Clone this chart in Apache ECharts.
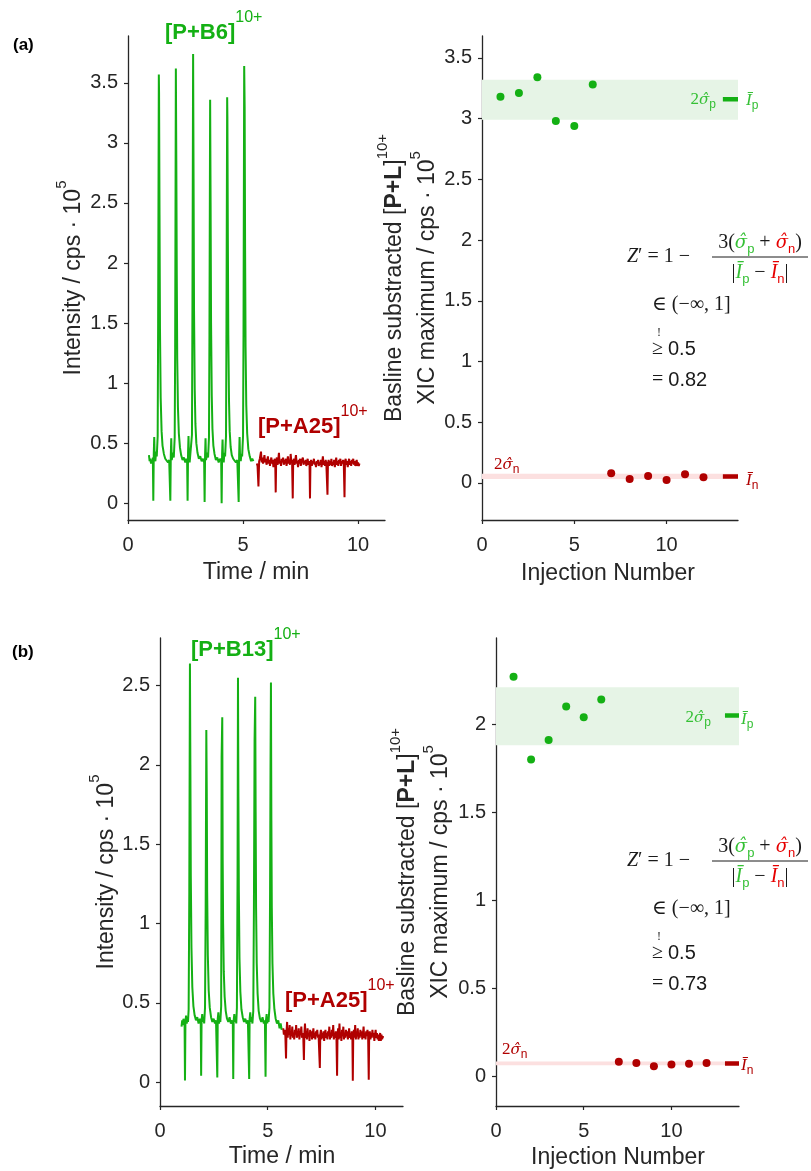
<!DOCTYPE html>
<html>
<head>
<meta charset="utf-8">
<script src="https://cdn.jsdelivr.net/npm/echarts@6/dist/echarts.min.js"></script>
<style>
  html, body { margin: 0; padding: 0; background: #ffffff; }
  #chart { width: 811px; height: 1171px; }
</style>
</head>
<body>
<div id="chart"></div>
<script>
// ---- tick labels ----
const timeTicks = [0, 5, 10];
const injectionTicks = [0, 5, 10];
const intensityTicksA = [0, 0.5, 1, 1.5, 2, 2.5, 3, 3.5];
const xicTicksA = [0, 0.5, 1, 1.5, 2, 2.5, 3, 3.5];
const intensityTicksB = [0, 0.5, 1, 1.5, 2, 2.5];
const xicTicksB = [0, 0.5, 1, 1.5, 2];

// ---- (a) chromatograms: [time / min, intensity / cps·10^5] ----
const traceA_B6 = [
  [0.91,0.40],[0.94,0.35],[0.97,0.37],[1.00,0.33],[1.03,0.36],[1.06,0.34],[1.08,0.38],
  [1.10,0.02],[1.12,0.41],[1.14,0.55],[1.16,0.37],[1.19,0.35],[1.22,0.43],[1.25,0.39],[1.29,0.56],[1.31,1.50],[1.34,3.57],[1.35,3.42],[1.37,2.40],[1.39,1.45],[1.42,0.88],[1.46,0.60],[1.50,0.48],[1.56,0.41],[1.62,0.37],[1.68,0.38],[1.74,0.34],[1.79,0.36],[1.82,0.35],
  [1.84,0.02],[1.86,0.40],[1.88,0.54],[1.90,0.36],[1.93,0.35],[1.96,0.42],[1.99,0.38],[2.03,0.55],[2.05,1.30],[2.08,3.62],[2.10,2.85],[2.12,1.90],[2.14,1.20],[2.17,0.80],[2.21,0.58],[2.26,0.46],[2.31,0.40],[2.37,0.36],[2.43,0.38],[2.49,0.34],[2.54,0.37],[2.57,0.35],
  [2.59,0.02],[2.61,0.42],[2.63,0.56],[2.65,0.37],[2.68,0.34],[2.71,0.41],[2.74,0.40],[2.78,0.57],[2.80,1.60],[2.83,3.74],[2.85,2.70],[2.87,1.60],[2.90,0.95],[2.93,0.66],[2.97,0.50],[3.02,0.42],[3.08,0.37],[3.14,0.39],[3.20,0.35],[3.26,0.37],[3.31,0.34],
  [3.33,0.01],[3.35,0.40],[3.37,0.54],[3.39,0.36],[3.42,0.35],[3.45,0.42],[3.48,0.38],[3.52,0.55],[3.54,1.40],[3.57,3.36],[3.59,2.50],[3.61,1.50],[3.64,0.90],[3.67,0.62],[3.71,0.48],[3.76,0.41],[3.82,0.36],[3.88,0.38],[3.94,0.34],[4.00,0.37],[4.05,0.35],
  [4.07,0.00],[4.09,0.41],[4.11,0.53],[4.13,0.37],[4.16,0.34],[4.19,0.42],[4.22,0.39],[4.26,0.56],[4.28,1.50],[4.31,3.38],[4.32,3.22],[4.34,2.20],[4.36,1.40],[4.39,0.85],[4.42,0.60],[4.46,0.47],[4.51,0.40],[4.57,0.37],[4.63,0.38],[4.69,0.34],[4.75,0.36],[4.79,0.35],
  [4.81,0.01],[4.83,0.40],[4.85,0.55],[4.87,0.38],[4.90,0.35],[4.93,0.41],[4.96,0.39],[5.00,0.56],[5.02,1.40],[5.05,3.64],[5.07,3.30],[5.09,2.10],[5.11,1.30],[5.14,0.82],[5.18,0.58],[5.23,0.45],[5.29,0.39],[5.35,0.35],[5.40,0.37],[5.45,0.35]
];
const traceA_A25 = [
  [5.60,0.33],[5.63,0.31],[5.67,0.14],[5.70,0.35],[5.73,0.37],[5.76,0.36],[5.78,0.43],[5.81,0.34],[5.84,0.38],[5.87,0.33],[5.90,0.36],[5.93,0.40],[5.96,0.34],[5.99,0.37],[6.02,0.32],[6.05,0.35],[6.08,0.39],[6.11,0.33],[6.14,0.36],[6.17,0.31],[6.20,0.35],[6.23,0.38],[6.26,0.33],[6.29,0.36],[6.32,0.30],[6.35,0.34],[6.38,0.37],[6.40,0.33],
  [6.42,0.09],[6.44,0.35],[6.47,0.38],[6.50,0.32],[6.53,0.36],[6.56,0.42],[6.59,0.33],[6.62,0.35],[6.65,0.31],[6.68,0.37],[6.71,0.34],[6.74,0.38],[6.77,0.32],[6.80,0.36],[6.83,0.33],[6.86,0.37],[6.89,0.31],[6.92,0.35],[6.95,0.39],[6.98,0.33],[7.01,0.36],[7.04,0.32],[7.07,0.41],[7.10,0.34],[7.13,0.36],
  [7.16,0.04],[7.18,0.35],[7.21,0.37],[7.24,0.32],[7.27,0.36],[7.30,0.40],[7.33,0.33],[7.36,0.35],[7.39,0.30],[7.42,0.36],[7.45,0.33],[7.48,0.37],[7.51,0.31],[7.54,0.35],[7.57,0.34],[7.60,0.38],[7.63,0.32],[7.66,0.35],[7.69,0.33],[7.72,0.36],[7.75,0.31],[7.78,0.34],[7.81,0.37],[7.84,0.32],[7.87,0.35],[7.89,0.33],
  [7.91,0.04],[7.93,0.34],[7.96,0.36],[7.99,0.31],[8.02,0.35],[8.05,0.33],[8.08,0.37],[8.11,0.32],[8.14,0.34],[8.17,0.30],[8.20,0.35],[8.23,0.33],[8.26,0.36],[8.29,0.31],[8.32,0.34],[8.35,0.32],[8.38,0.36],[8.41,0.30],[8.44,0.34],[8.47,0.39],[8.50,0.32],[8.53,0.35],[8.56,0.31],[8.59,0.36],[8.62,0.33],[8.64,0.34],
  [8.67,0.07],[8.69,0.33],[8.72,0.36],[8.75,0.31],[8.78,0.35],[8.81,0.32],[8.84,0.37],[8.87,0.31],[8.90,0.34],[8.93,0.32],[8.96,0.36],[8.99,0.30],[9.02,0.34],[9.05,0.38],[9.08,0.32],[9.11,0.35],[9.14,0.31],[9.17,0.36],[9.20,0.33],[9.23,0.37],[9.26,0.31],[9.29,0.35],[9.32,0.33],[9.35,0.36],[9.38,0.32],
  [9.41,0.05],[9.43,0.34],[9.46,0.37],[9.49,0.32],[9.52,0.35],[9.55,0.30],[9.58,0.34],[9.61,0.37],[9.64,0.32],[9.67,0.35],[9.70,0.31],[9.73,0.36],[9.76,0.33],[9.79,0.37],[9.82,0.32],[9.85,0.35],[9.88,0.31],[9.91,0.34],[9.94,0.36],[9.97,0.31],[10.00,0.34],[10.03,0.31],[10.06,0.33]
];

// ---- (b) chromatograms ----
const traceB_B13 = [
  [1.00,0.35],[1.03,0.39],[1.06,0.36],[1.09,0.40],[1.12,0.37],[1.14,0.39],
  [1.16,0.01],[1.18,0.38],[1.21,0.42],[1.24,0.37],[1.27,0.40],[1.30,0.38],[1.33,0.46],[1.36,1.20],[1.39,2.64],[1.41,2.00],[1.43,1.30],[1.46,0.85],[1.50,0.60],[1.55,0.48],[1.61,0.42],[1.67,0.39],[1.73,0.41],[1.79,0.37],[1.85,0.40],[1.89,0.38],
  [1.91,0.04],[1.93,0.39],[1.96,0.43],[1.99,0.38],[2.02,0.41],[2.05,0.37],[2.09,0.47],[2.12,1.10],[2.15,2.22],[2.17,1.85],[2.19,1.20],[2.22,0.80],[2.26,0.58],[2.31,0.47],[2.37,0.41],[2.43,0.38],[2.49,0.40],[2.55,0.37],[2.60,0.39],[2.64,0.38],
  [2.66,0.03],[2.68,0.40],[2.71,0.44],[2.74,0.37],[2.77,0.40],[2.80,0.38],[2.84,0.48],[2.86,2.05],[2.89,2.30],[2.91,1.40],[2.93,1.00],[2.96,0.70],[3.00,0.54],[3.05,0.45],[3.11,0.40],[3.17,0.38],[3.23,0.41],[3.29,0.37],[3.35,0.39],[3.38,0.37],
  [3.40,0.02],[3.42,0.39],[3.45,0.43],[3.48,0.38],[3.51,0.41],[3.54,0.37],[3.57,0.47],[3.60,1.30],[3.62,2.55],[3.64,1.80],[3.66,1.20],[3.69,0.78],[3.73,0.57],[3.78,0.46],[3.84,0.41],[3.90,0.38],[3.96,0.40],[4.02,0.37],[4.08,0.39],[4.12,0.38],
  [4.14,0.02],[4.16,0.40],[4.19,0.44],[4.22,0.38],[4.25,0.41],[4.29,0.37],[4.33,0.45],[4.36,1.10],[4.39,2.15],[4.42,2.43],[4.44,1.70],[4.46,1.10],[4.49,0.75],[4.53,0.56],[4.58,0.45],[4.64,0.40],[4.70,0.38],[4.76,0.41],[4.82,0.37],[4.87,0.39],
  [4.90,0.035],[4.92,0.39],[4.95,0.43],[4.98,0.37],[5.01,0.41],[5.04,0.38],[5.08,0.47],[5.11,1.20],[5.13,1.97],[5.15,2.52],[5.17,1.65],[5.19,1.10],[5.22,0.75],[5.26,0.56],[5.31,0.46],[5.37,0.40],[5.43,0.37],[5.49,0.39],[5.55,0.34],[5.60,0.37],[5.65,0.33]
];
const traceB_A25 = [
  [5.72,0.34],[5.75,0.30],[5.78,0.33],[5.82,0.29],[5.85,0.15],[5.87,0.31],[5.90,0.38],[5.93,0.28],[5.96,0.34],[5.99,0.30],[6.02,0.36],[6.05,0.27],[6.08,0.32],[6.11,0.29],[6.14,0.35],[6.17,0.28],[6.20,0.31],[6.23,0.27],[6.26,0.33],[6.29,0.30],[6.32,0.36],[6.35,0.28],[6.38,0.31],[6.41,0.29],[6.44,0.34],[6.47,0.27],[6.50,0.32],[6.53,0.30],[6.56,0.35],[6.59,0.28],[6.62,0.31],[6.65,0.29],
  [6.68,0.14],[6.70,0.30],[6.73,0.37],[6.76,0.28],[6.79,0.32],[6.82,0.27],[6.85,0.34],[6.88,0.29],[6.91,0.31],[6.94,0.26],[6.97,0.33],[7.00,0.29],[7.03,0.32],[7.06,0.27],[7.09,0.30],[7.12,0.34],[7.15,0.28],[7.18,0.31],[7.21,0.27],[7.24,0.32],[7.27,0.29],[7.30,0.33],[7.33,0.28],[7.36,0.30],[7.39,0.29],
  [7.42,0.09],[7.44,0.30],[7.47,0.33],[7.50,0.27],[7.53,0.31],[7.56,0.28],[7.59,0.32],[7.62,0.26],[7.65,0.30],[7.68,0.33],[7.71,0.28],[7.74,0.31],[7.77,0.27],[7.80,0.32],[7.83,0.29],[7.86,0.35],[7.89,0.27],[7.92,0.31],[7.95,0.28],[7.98,0.33],[8.01,0.29],[8.04,0.36],[8.07,0.27],[8.10,0.31],[8.13,0.28],[8.16,0.32],[8.19,0.29],
  [8.22,0.04],[8.24,0.30],[8.27,0.34],[8.30,0.27],[8.33,0.37],[8.36,0.28],[8.39,0.31],[8.42,0.26],[8.45,0.33],[8.48,0.29],[8.51,0.35],[8.54,0.27],[8.57,0.31],[8.60,0.28],[8.63,0.33],[8.66,0.29],[8.69,0.32],[8.72,0.27],[8.75,0.30],[8.78,0.34],[8.81,0.28],[8.84,0.31],[8.87,0.27],[8.90,0.32],[8.93,0.30],
  [8.95,0.01],[8.97,0.29],[9.00,0.33],[9.03,0.28],[9.06,0.36],[9.09,0.27],[9.12,0.31],[9.15,0.29],[9.18,0.34],[9.21,0.27],[9.24,0.31],[9.27,0.28],[9.30,0.33],[9.33,0.29],[9.36,0.32],[9.39,0.27],[9.42,0.30],[9.45,0.35],[9.48,0.28],[9.51,0.31],[9.54,0.27],[9.57,0.32],[9.60,0.29],[9.63,0.33],[9.66,0.30],
  [9.69,0.015],[9.71,0.29],[9.74,0.32],[9.77,0.27],[9.80,0.31],[9.83,0.28],[9.86,0.33],[9.89,0.29],[9.92,0.31],[9.95,0.26],[9.98,0.30],[10.01,0.33],[10.04,0.28],[10.07,0.31],[10.10,0.27],[10.13,0.30],[10.16,0.26],[10.19,0.29],[10.22,0.31],[10.25,0.26],[10.28,0.30],[10.31,0.27],[10.34,0.29],[10.36,0.28]
];

// ---- XIC maxima per injection ----
const injectionsPos = [1, 2, 3, 4, 5, 6];
const injectionsNeg = [7, 8, 9, 10, 11, 12];
const xicA_pos = [3.18, 3.21, 3.34, 2.98, 2.94, 3.28];
const xicA_neg = [0.080, 0.033, 0.058, 0.025, 0.072, 0.047];
const xicB_pos = [2.27, 1.80, 1.91, 2.10, 2.04, 2.14];
const xicB_neg = [0.081, 0.075, 0.056, 0.066, 0.070, 0.075];

// mean and mean ± sigma bands
const meanA_pos = 3.16, bandA_pos = [2.99, 3.32];
const meanA_neg = 0.054, bandA_neg = [0.033, 0.075];
const meanB_pos = 2.05, bandB_pos = [1.88, 2.21];
const meanB_neg = 0.071, bandB_neg = [0.061, 0.083];
const meanMarkerStart = 13.05;
const zPrimeA = '0.82';
const zPrimeB = '0.73';

// ---- axis extents ----
const timeMaxA = 11.17, timeMaxB = 11.28;
const injMaxA = 13.87, injMaxB = 13.85;
const intensityRangeA = [-0.14, 3.89];
const xicRangeA = [-0.305, 3.68];
const intensityRangeB = [-0.15, 2.80];
const xicRangeB = [-0.17, 2.49];

// ---- styling ----
const SANS = '"Liberation Sans", Arial, Helvetica, sans-serif';
const SERIF = '"Liberation Serif", "DejaVu Serif", serif';
const INK = '#262626';
const GREEN = '#14b014';
const GREEN_LABEL = '#35c035';
const RED = '#b00000';
const RED_BRIGHT = '#e60000';
const BAND_GREEN = '#e6f4e6';
const BAND_RED = '#fce0e0';

const chart = echarts.init(document.getElementById('chart'), null, { renderer: 'canvas' });

function valueAxis(gridIndex, min, max, ticks, labelMargin) {
  return {
    type: 'value', gridIndex, min, max,
    axisLine: { show: true, onZero: false, lineStyle: { color: INK, width: 1.3 } },
    axisTick: { show: true, inside: false, length: 4, customValues: ticks, lineStyle: { color: INK, width: 1.2 } },
    axisLabel: { show: true, customValues: ticks, fontSize: 20, fontFamily: SANS, color: INK, margin: labelMargin },
    splitLine: { show: false }
  };
}

function traceSeries(axis, data, color) {
  return {
    type: 'line', xAxisIndex: axis, yAxisIndex: axis, data,
    showSymbol: false, symbol: 'none', silent: true,
    lineStyle: { color, width: 2 }, z: 3
  };
}

function bandSeries(axis, band, xmax, color) {
  return {
    type: 'line', xAxisIndex: axis, yAxisIndex: axis, data: [], silent: true, z: 1,
    markArea: {
      silent: true, itemStyle: { color, opacity: 1 },
      data: [[{ xAxis: 0, yAxis: band[0] }, { xAxis: xmax, yAxis: band[1] }]]
    }
  };
}

function meanSeries(axis, mean, xmax, color) {
  return {
    type: 'line', xAxisIndex: axis, yAxisIndex: axis, silent: true, z: 4,
    data: [[meanMarkerStart, mean], [xmax, mean]],
    showSymbol: false, symbol: 'none', lineStyle: { color, width: 4.5 }
  };
}

function dotSeries(axis, xs, ys, color) {
  return {
    type: 'scatter', xAxisIndex: axis, yAxisIndex: axis, silent: true, z: 5,
    data: xs.map((x, i) => [x, ys[i]]),
    symbol: 'circle', symbolSize: 8, itemStyle: { color, opacity: 1 }
  };
}

// ---- text helpers ----
function txt(x, y, text, rich, opts) {
  return Object.assign({
    type: 'text', x, y, silent: true, z: 100,
    style: Object.assign({ text, rich, align: 'left', verticalAlign: 'middle',
      textAlign: 'left', textVerticalAlign: 'middle' }, opts && opts.style)
  }, opts && opts.el);
}

const richAxis = {
  t: { fontSize: 23, fontFamily: SANS, fill: INK, lineHeight: 40 },
  b: { fontSize: 23, fontFamily: SANS, fontWeight: 'bold', fill: INK, lineHeight: 40 },
  s: { fontSize: 15, fontFamily: SANS, fill: INK, lineHeight: 15, verticalAlign: 'top' }
};

function speciesRich(color) {
  return {
    m: { fontSize: 22, fontFamily: SANS, fontWeight: 'bold', fill: color, lineHeight: 46 },
    s: { fontSize: 16, fontFamily: SANS, fill: color, lineHeight: 16, verticalAlign: 'top' }
  };
}

// sigma-hat glyphs are set in DejaVu, which places the combining circumflex over the base letter
const HAT_FONT = '"DejaVu Serif", serif';

const richMath = {
  rm: { fontSize: 20, fontFamily: SERIF, fill: '#1a1a1a', lineHeight: 26 },
  it: { fontSize: 20, fontFamily: SERIF, fontStyle: 'italic', fill: '#1a1a1a', lineHeight: 26 },
  sn: { fontSize: 20, fontFamily: SANS, fill: '#1a1a1a', lineHeight: 26 },
  gi: { fontSize: 20, fontFamily: SERIF, fontStyle: 'italic', fill: GREEN_LABEL, lineHeight: 26 },
  gh: { fontSize: 18, fontFamily: HAT_FONT, fontStyle: 'italic', fill: GREEN_LABEL, lineHeight: 26 },
  gs: { fontSize: 13, fontFamily: SANS, fill: GREEN_LABEL, lineHeight: 13, verticalAlign: 'bottom' },
  ri: { fontSize: 20, fontFamily: SERIF, fontStyle: 'italic', fill: RED_BRIGHT, lineHeight: 26 },
  rh: { fontSize: 18, fontFamily: HAT_FONT, fontStyle: 'italic', fill: RED_BRIGHT, lineHeight: 26 },
  rs: { fontSize: 13, fontFamily: SANS, fill: RED_BRIGHT, lineHeight: 13, verticalAlign: 'bottom' }
};

function bandLabelRich(color) {
  return {
    rm: { fontSize: 17, fontFamily: SERIF, fill: color, lineHeight: 22 },
    it: { fontSize: 17, fontFamily: SERIF, fontStyle: 'italic', fill: color, lineHeight: 22 },
    ht: { fontSize: 15, fontFamily: HAT_FONT, fontStyle: 'italic', fill: color, lineHeight: 22 },
    sb: { fontSize: 12, fontFamily: SANS, fill: color, lineHeight: 12, verticalAlign: 'bottom' }
  };
}

function formulaBlock(lineY, zVal) {
  const x0 = 627, xf = 652;
  return [
    txt(x0, lineY, '{it|Z}{rm|′ = 1 −}', richMath),
    txt(760, lineY - 14, '{rm|3(}{gh|σ̂}{gs|p}{rm| + }{rh|σ̂}{rs|n}{rm|)}', richMath, { style: { align: 'center', textAlign: 'center' } }),
    { type: 'line', silent: true, z: 100, shape: { x1: 712, y1: lineY, x2: 808, y2: lineY }, style: { stroke: '#1a1a1a', lineWidth: 1 } },
    txt(760, lineY + 16, '{rm||}{gi|Ī}{gs|p}{rm| − }{ri|Ī}{rs|n}{rm||}', richMath, { style: { align: 'center', textAlign: 'center' } }),
    txt(xf, lineY + 48, '{rm|∈ (−∞, 1]}', richMath),
    txt(xf + 7, lineY + 76, '{rm|!}', { rm: { fontSize: 12, fontFamily: SERIF, fill: '#1a1a1a' } }, { style: { align: 'center', textAlign: 'center' } }),
    txt(xf, lineY + 92, '{rm|≥ }{sn|0.5}', richMath),
    txt(xf, lineY + 123, '{rm|= }{sn|' + zVal + '}', richMath)
  ];
}

const graphics = [
  // panel tags
  txt(13, 45, '(a)', null, { style: { font: 'bold 17px ' + SANS, fill: '#000' } }),
  txt(12, 652, '(b)', null, { style: { font: 'bold 17px ' + SANS, fill: '#000' } }),

  // species labels
  txt(165, 33, '{m|[P+B6]}{s|10+}', speciesRich(GREEN)),
  txt(258, 427, '{m|[P+A25]}{s|10+}', speciesRich(RED)),
  txt(191, 650, '{m|[P+B13]}{s|10+}', speciesRich(GREEN)),
  txt(285, 1001, '{m|[P+A25]}{s|10+}', speciesRich(RED)),

  // axis titles, panel (a)
  txt(256, 573, '{t|Time / min}', richAxis, { style: { align: 'center', textAlign: 'center' } }),
  txt(608, 574, '{t|Injection Number}', richAxis, { style: { align: 'center', textAlign: 'center' } }),
  txt(74, 278, '{t|Intensity / cps · 10}{s|5}', richAxis, { style: { align: 'center', textAlign: 'center' }, el: { rotation: Math.PI / 2 } }),
  txt(395, 278, '{t|Basline substracted [}{b|P+L}{t|]}{s|10+}', richAxis, { style: { align: 'center', textAlign: 'center' }, el: { rotation: Math.PI / 2 } }),
  txt(428, 278, '{t|XIC maximum / cps · 10}{s|5}', richAxis, { style: { align: 'center', textAlign: 'center' }, el: { rotation: Math.PI / 2 } }),

  // axis titles, panel (b)
  txt(282, 1157, '{t|Time / min}', richAxis, { style: { align: 'center', textAlign: 'center' } }),
  txt(618, 1158, '{t|Injection Number}', richAxis, { style: { align: 'center', textAlign: 'center' } }),
  txt(107, 872, '{t|Intensity / cps · 10}{s|5}', richAxis, { style: { align: 'center', textAlign: 'center' }, el: { rotation: Math.PI / 2 } }),
  txt(408, 872, '{t|Basline substracted [}{b|P+L}{t|]}{s|10+}', richAxis, { style: { align: 'center', textAlign: 'center' }, el: { rotation: Math.PI / 2 } }),
  txt(441, 872, '{t|XIC maximum / cps · 10}{s|5}', richAxis, { style: { align: 'center', textAlign: 'center' }, el: { rotation: Math.PI / 2 } }),

  // band annotations, panel (a)
  txt(716, 100, '{rm|2}{ht|σ̂}{sb|p}', bandLabelRich(GREEN_LABEL), { style: { align: 'right', textAlign: 'right' } }),
  txt(746, 101, '{it|Ī}{sb|p}', bandLabelRich(GREEN_LABEL)),
  txt(494, 465, '{rm|2}{ht|σ̂}{sb|n}', bandLabelRich(RED)),
  txt(746, 481, '{it|Ī}{sb|n}', bandLabelRich(RED)),

  // band annotations, panel (b)
  txt(711, 718, '{rm|2}{ht|σ̂}{sb|p}', bandLabelRich(GREEN_LABEL), { style: { align: 'right', textAlign: 'right' } }),
  txt(741, 720, '{it|Ī}{sb|p}', bandLabelRich(GREEN_LABEL)),
  txt(502, 1050, '{rm|2}{ht|σ̂}{sb|n}', bandLabelRich(RED)),
  txt(741, 1066, '{it|Ī}{sb|n}', bandLabelRich(RED))
].concat(formulaBlock(257, zPrimeA), formulaBlock(861, zPrimeB));

const option = {
  animation: false,
  backgroundColor: '#ffffff',
  grid: [
    { left: 128, top: 36, width: 257, height: 484 },
    { left: 482, top: 36, width: 256, height: 484 },
    { left: 160, top: 638, width: 243, height: 468 },
    { left: 496, top: 638, width: 243, height: 468 }
  ],
  xAxis: [
    valueAxis(0, 0, timeMaxA, timeTicks, 15),
    valueAxis(1, 0, injMaxA, injectionTicks, 15),
    valueAxis(2, 0, timeMaxB, timeTicks, 15),
    valueAxis(3, 0, injMaxB, injectionTicks, 15)
  ],
  yAxis: [
    valueAxis(0, intensityRangeA[0], intensityRangeA[1], intensityTicksA, 10),
    valueAxis(1, xicRangeA[0], xicRangeA[1], xicTicksA, 10),
    valueAxis(2, intensityRangeB[0], intensityRangeB[1], intensityTicksB, 10),
    valueAxis(3, xicRangeB[0], xicRangeB[1], xicTicksB, 10)
  ],
  series: [
    traceSeries(0, traceA_B6, GREEN),
    traceSeries(0, traceA_A25, RED),
    bandSeries(1, bandA_pos, injMaxA, BAND_GREEN),
    bandSeries(1, bandA_neg, injMaxA, BAND_RED),
    meanSeries(1, meanA_pos, injMaxA, GREEN),
    meanSeries(1, meanA_neg, injMaxA, RED),
    dotSeries(1, injectionsPos, xicA_pos, GREEN),
    dotSeries(1, injectionsNeg, xicA_neg, RED),

    traceSeries(2, traceB_B13, GREEN),
    traceSeries(2, traceB_A25, RED),
    bandSeries(3, bandB_pos, injMaxB, BAND_GREEN),
    bandSeries(3, bandB_neg, injMaxB, BAND_RED),
    meanSeries(3, meanB_pos, injMaxB, GREEN),
    meanSeries(3, meanB_neg, injMaxB, RED),
    dotSeries(3, injectionsPos, xicB_pos, GREEN),
    dotSeries(3, injectionsNeg, xicB_neg, RED)
  ],
  graphic: graphics
};

chart.setOption(option);
</script>
</body>
</html>
